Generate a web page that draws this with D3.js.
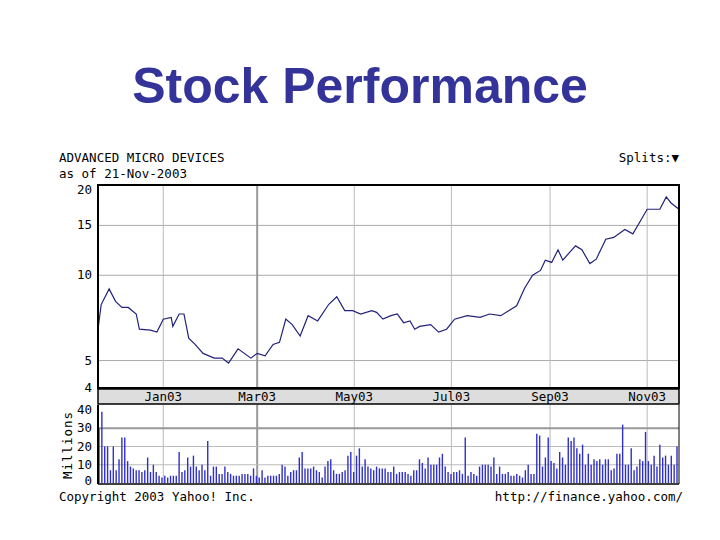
<!DOCTYPE html>
<html><head><meta charset="utf-8">
<script src="https://cdn.jsdelivr.net/npm/d3@7"></script>
<style>body{margin:0;background:#fff}</style></head>
<body><svg id="c" width="720" height="540"></svg>
<script>
const startDate = new Date(2002,10,21);
const priceDays = [0,2,7,11,15,19,24,26,33,37,41,46,47,51,54,57,61,66,73,78,82,88,96,100,105,110,114,118,122,127,132,138,145,150,155,160,165,172,175,179,184,188,192,196,199,202,209,214,219,224,232,240,246,253,258,263,268,273,278,281,285,289,292,296,300,304,309,313,319,324,331,336,340,345,353,357,360,365];
const prices = [6.45,7.88,8.95,8.09,7.7,7.7,7.3,6.45,6.4,6.3,7.0,7.1,6.6,7.3,7.3,6.0,5.7,5.3,5.1,5.1,4.9,5.5,5.1,5.3,5.2,5.7,5.8,7.0,6.7,6.1,7.2,6.9,7.9,8.4,7.5,7.5,7.3,7.5,7.4,7.0,7.2,7.3,6.8,6.9,6.45,6.6,6.7,6.3,6.45,7.0,7.2,7.1,7.3,7.2,7.5,7.8,9.0,10.0,10.4,11.3,11.1,12.3,11.3,12.0,12.7,12.3,11.0,11.4,13.4,13.6,14.5,14.0,15.3,17.1,17.1,18.9,18.0,17.1];
const volumes = [30,39,20,20,7,20,7,13,25,25,12,9,8,7,7,6,7,14,6,10,6,4,3,4,3,4,4,4,17,6,7,14,9,15,9,7,10,7,23,4,9,9,5,5,9,6,5,4,4,4,5,5,5,4,8,4,3,7,3,4,4,4,4,5,10,9,4,6,7,7,14,17,8,8,8,9,7,6,3,9,12,13,7,5,5,6,7,15,17,6,15,19,9,13,9,8,7,9,8,8,8,6,6,9,5,6,6,6,5,4,7,7,13,11,8,14,10,10,10,14,16,9,6,5,6,6,7,5,25,4,6,5,4,9,10,10,10,9,14,5,9,5,5,6,4,4,5,4,3,7,10,5,5,27,26,9,14,25,12,11,8,17,14,10,25,23,25,19,16,21,10,16,10,13,12,13,10,13,13,7,8,16,16,32,10,10,19,7,9,13,12,28,12,10,15,9,21,14,15,10,15,10,20];
const priceTicks = [4,5,10,15,20];
const volTicks = [0,10,20,30,40];
const monthLabels = ["Jan03","Mar03","May03","Jul03","Sep03","Nov03"];
const monthDates = [new Date(2003,0,1),new Date(2003,2,1),new Date(2003,4,1),new Date(2003,6,1),new Date(2003,8,1),new Date(2003,10,1)];

const svg = d3.select("#c");
const L=98, R=679, pTop=185, pBot=388, bTop=389, bBot=404, vTop=405, vBot=484;
const mono = "'DejaVu Sans Mono', monospace";
const endDate = d3.timeDay.offset(startDate,365);
const x = d3.scaleTime().domain([startDate,endDate]).range([L,R]);
const yP = d3.scaleLog().domain([4,20]).range([pBot,pTop+5]);
const yV = d3.scaleLinear().domain([0,40]).range([vBot-1,vTop+5]);

svg.append("text").attr("x",360).attr("y",103).attr("text-anchor","middle")
  .attr("font-family","'Liberation Sans', Arial, sans-serif").attr("font-weight","bold")
  .attr("font-size",50).attr("fill","#333399").text("Stock Performance");

const g = svg.append("g");
g.selectAll(".hg").data(priceTicks.slice(1,-1)).join("line")
  .attr("x1",L).attr("x2",R).attr("y1",d=>yP(d)).attr("y2",d=>yP(d)).attr("stroke","#aaa");
g.selectAll(".vg").data(monthDates).join("line")
  .attr("x1",d=>x(d)).attr("x2",d=>x(d)).attr("y1",pTop).attr("y2",pBot)
  .attr("stroke",(d,i)=>i==1?"#999":"#bbb").attr("stroke-width",(d,i)=>i==1?2:1);
g.selectAll(".vg2").data(monthDates).join("line")
  .attr("x1",d=>x(d)).attr("x2",d=>x(d)).attr("y1",vTop).attr("y2",vBot)
  .attr("stroke",(d,i)=>i==1?"#999":"#bbb").attr("stroke-width",(d,i)=>i==1?2:1);
g.selectAll(".vh").data(volTicks.slice(1,-1)).join("line")
  .attr("x1",L).attr("x2",R).attr("y1",d=>yV(d)).attr("y2",d=>yV(d))
  .attr("stroke",d=>d==30?"#999":"#bbb").attr("stroke-width",d=>d==30?2:1);

const xi = d3.scaleLinear().domain([0,volumes.length-1]).range([L+1,R-2]);
g.selectAll(".vb").data(volumes).join("line")
  .attr("x1",(d,i)=>xi(i)).attr("x2",(d,i)=>xi(i)).attr("y1",yV(0)).attr("y2",d=>yV(d))
  .attr("stroke","#3030c8").attr("stroke-width",1.4);

const pts = priceDays.map((d,i)=>[d3.timeDay.offset(startDate,d),prices[i]]);
g.append("path").datum(pts).attr("fill","none").attr("stroke","#22227a").attr("stroke-width",1.2)
  .attr("d",d3.line().x(d=>x(d[0])).y(d=>yP(d[1])));

g.append("rect").attr("x",L).attr("y",pTop).attr("width",R-L).attr("height",pBot-pTop).attr("fill","none").attr("stroke","#000").attr("stroke-width",2);
g.append("rect").attr("x",L).attr("y",bTop).attr("width",R-L).attr("height",bBot-bTop).attr("fill","#ddd").attr("stroke","#000").attr("stroke-width",1.5);
g.append("line").attr("x1",L).attr("x2",L).attr("y1",vTop).attr("y2",vBot).attr("stroke","#000").attr("stroke-width",2);
g.append("line").attr("x1",R).attr("x2",R).attr("y1",vTop).attr("y2",vBot).attr("stroke","#000").attr("stroke-width",1);
g.append("line").attr("x1",L).attr("x2",R).attr("y1",vBot).attr("y2",vBot).attr("stroke","#000").attr("stroke-width",1.5);

const fs = 12.5;
g.selectAll(".pl").data(priceTicks).join("text").attr("x",L-6).attr("y",d=>yP(d)+4)
  .attr("text-anchor","end").attr("font-family",mono).attr("font-size",fs).text(d=>d);
g.selectAll(".vl").data(volTicks).join("text").attr("x",L-6).attr("y",d=>yV(d)+(d==0?2:4))
  .attr("text-anchor","end").attr("font-family",mono).attr("font-size",fs).text(d=>d);
g.selectAll(".ml").data(monthDates).join("text").attr("x",d=>x(d)).attr("y",bBot-3)
  .attr("text-anchor","middle").attr("font-family",mono).attr("font-size",fs).text((d,i)=>monthLabels[i]);
svg.append("text").attr("transform","translate(72,445) rotate(-90)").attr("text-anchor","middle")
  .attr("font-family",mono).attr("font-size",fs).attr("letter-spacing",1).text("Millions");

const t = (xx,yy,s,a)=>svg.append("text").attr("x",xx).attr("y",yy).attr("font-family",mono)
  .attr("font-size",fs).attr("text-anchor",a||"start").text(s);
t(59,162,"ADVANCED MICRO DEVICES");
t(59,178,"as of 21-Nov-2003");
t(679,162,"Splits:▼","end");
t(59,501,"Copyright 2003 Yahoo! Inc.");
t(683,501,"http://finance.yahoo.com/","end");
</script></body></html>
